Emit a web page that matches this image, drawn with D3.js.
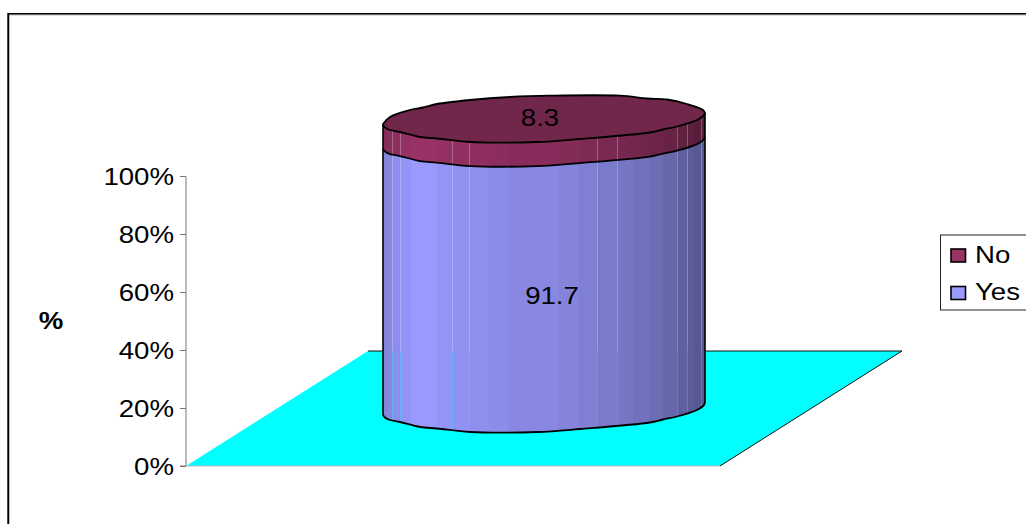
<!DOCTYPE html>
<html><head><meta charset="utf-8">
<style>html,body{margin:0;padding:0;background:#fff}svg{display:block}text{font-family:"Liberation Sans",Arial,sans-serif;fill:#000}</style>
<script src="https://cdn.jsdelivr.net/npm/d3@7"></script></head><body><svg id="c" width="1026" height="524"></svg>
<script>
const seriesNames=["Yes","No"];
const seriesValues=[91.7,8.3];
const seriesColors=["#9999FF","#993366"];
const tickValues=[0,20,40,60,80,100];
const axisTitle="%";
// Outline of the drawn column (x in px, offset from the floor line in px)
const frontX=[383,385,390,400,420,437,470,537,580,650,663,677,697,703,705];
const frontOff=[-51,-48.5,-46,-44,-39,-37.5,-34,-34,-37,-43.5,-46.5,-49.5,-56,-60,-63];
const backX=[383,390,412,423,437,470,510,550,620,647,667,687,703,705];
const backOff=[-51,-58,-65.5,-67.5,-71,-75,-78,-79.3,-79.3,-76.5,-75.5,-71,-65,-62];
// facet edges and their brightness across the column
const facetX=[383,387,392,400,411,437,452,469,489,508,558,579,597,617,633,649,663,677,687,694,705];
const facetB=[.86,.88,.92,.97,1,.97,.95,.93,.91,.89,.86,.83,.8,.77,.74,.71,.67,.63,.6,.57];
const seamX=[392,400,452,469,597,617,677,687,701];

const svg=d3.select("#c");
const y=d3.scaleLinear().domain([0,100]).range([466,176]);
const x=d3.scaleLinear().domain([0,1]).range([186,720]);
const skewX=182, skewY=115, sx=1.2, fs=23;
const line=d3.line().curve(d3.curveCatmullRom.alpha(.5));

// frame
svg.append("path").attr("d","M8.2,524V13.8H1026").attr("fill","none").attr("stroke","#000").attr("stroke-width",1.8);
svg.append("path").attr("d","M9.6,524V15H1026").attr("fill","none").attr("stroke","#aaa").attr("stroke-width",.8);

// floor
const floor=[[x(0),y(0)],[x(1),y(0)],[x(1)+skewX,y(0)-skewY],[x(0)+skewX,y(0)-skewY]];
svg.append("path").attr("d",d3.line()(floor)+"Z").attr("fill","#00FFFF");
svg.append("path").attr("d",d3.line()([floor[3],floor[2],floor[1]])).attr("fill","none").attr("stroke","#111").attr("stroke-width",1);
svg.append("path").attr("d",d3.line()([floor[1],floor[0]])).attr("fill","none").attr("stroke","#bbb").attr("stroke-width",1);

// axis
const axis=d3.axisLeft(y).tickValues(tickValues).tickFormat(d=>d+"%").tickSize(6).tickPadding(5);
const ga=svg.append("g").attr("transform","translate(186,0)").call(axis);
ga.selectAll("line,path").attr("stroke","#777").attr("stroke-width",1);
ga.select(".domain").attr("d","M-6,176.5H0V466H-6");
ga.selectAll("text").attr("font-size",fs).attr("x",0).attr("dy","0.36em")
  .attr("transform",`translate(-12,0) scale(${sx},1)`)
  .attr("fill","#000").attr("font-family",'"Liberation Sans",Arial,sans-serif');
const label=(t,px,py,anchor,weight)=>svg.append("text").text(t)
  .attr("transform",`translate(${px},${py}) scale(${sx},1)`)
  .attr("text-anchor",anchor).attr("font-size",fs).attr("font-weight",weight||"normal");
label(axisTitle,51,329,"middle","bold");

// column
const frontAt=(v)=>frontX.map((px,i)=>[px,y(v)+frontOff[i]]);
const pathFor=(v0,v1)=>line(frontAt(v1))+"L"+line(frontAt(v0).reverse()).slice(1)+"Z";
const defs=svg.append("defs");
let acc=0;
const col=svg.append("g");
seriesValues.forEach((v,s)=>{
  const v0=acc,v1=acc+v;acc=v1;
  const id="clip"+s;
  defs.append("clipPath").attr("id",id).append("path").attr("d",pathFor(v0,v1));
  const g=col.append("g").attr("clip-path",`url(#${id})`);
  const base=d3.color(seriesColors[s]);
  facetB.forEach((b,i)=>{
    const c=d3.rgb(base.r*b,base.g*b,base.b*b);
    g.append("rect").attr("x",facetX[i]).attr("y",90).attr("width",facetX[i+1]-facetX[i]+.4).attr("height",350).attr("fill",c);
  });
  seamX.forEach(px=>{
    g.append("rect").attr("x",px).attr("y",90).attr("width",1).attr("height",y(0)-skewY-90).attr("fill","#fff").attr("opacity",.26);
    // below the floor's back edge the seams pick up the floor colour
    g.append("rect").attr("x",px).attr("y",y(0)-skewY).attr("width",1).attr("height",90).attr("fill","#00FFFF").attr("opacity",.3);
  });
});
// top cap
const capFront=frontAt(100);
const capBack=backX.map((px,i)=>[px,y(0)+backOff[i]-291]);
const capPath=line(capFront)+"L"+line(capBack.slice().reverse()).slice(1)+"Z";
const capBase=d3.color(seriesColors[1]);
svg.append("path").attr("d",capPath).attr("fill",d3.rgb(capBase.r*.74,capBase.g*.74,capBase.b*.74));
const stroke=(d,w)=>svg.append("path").attr("d",d).attr("fill","none").attr("stroke","#000").attr("stroke-width",w).attr("stroke-linejoin","round");
stroke(capPath,1.8);
stroke(line(frontAt(seriesValues[0])),1.8);
stroke(line(frontAt(0)),1.8);
stroke(`M${frontX[0]},${y(100)+frontOff[0]}V${y(0)+frontOff[0]}`,1.6);
const n=frontX.length-1;
stroke(`M${frontX[n]},${y(100)+frontOff[n]}V${y(0)+frontOff[n]}`,1.6);

// data labels
label(seriesValues[1],540,126,"middle");
label(seriesValues[0],552,304,"middle");

// legend
svg.append("rect").attr("x",940.5).attr("y",235).attr("width",100).attr("height",75).attr("fill","#fff").attr("stroke","#222").attr("stroke-width",1);
[1,0].forEach((s,i)=>{
  const ly=255.5+i*37.5;
  svg.append("rect").attr("x",951).attr("y",ly-6.5).attr("width",14.5).attr("height",13).attr("fill",seriesColors[s]).attr("stroke","#000").attr("stroke-width",1.6);
  label(seriesNames[s],975,ly+7,"start");
});
</script></body></html>
